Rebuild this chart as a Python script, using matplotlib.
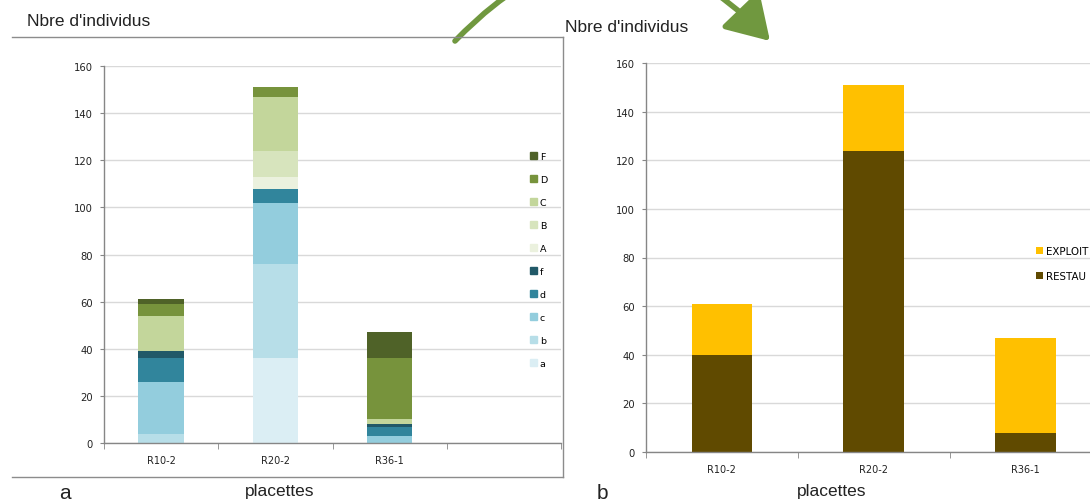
import matplotlib
matplotlib.use("Agg")
import matplotlib.pyplot as plt
import numpy as np
from matplotlib.patches import Patch, FancyArrowPatch, ArrowStyle
from matplotlib.lines import Line2D

# data
placettes = ["R10-2", "R20-2", "R36-1"]
left_series = ["a", "b", "c", "d", "f", "A", "B", "C", "D", "F"]
left_values = {
    "a": [0, 36, 0],
    "b": [4, 40, 0],
    "c": [22, 26, 3],
    "d": [10, 6, 4],
    "f": [3, 0, 1],
    "A": [0, 5, 0],
    "B": [0, 11, 0],
    "C": [15, 23, 2],
    "D": [5, 4, 26],
    "F": [2, 0, 11],
}
left_colors = {
    "a": "#DBEEF4", "b": "#B7DEE8", "c": "#93CDDD", "d": "#31859C", "f": "#215968",
    "A": "#EBF1DE", "B": "#D7E4BD", "C": "#C3D69B", "D": "#77933C", "F": "#4F6228",
}
restau = [40, 124, 8]
exploit = [21, 27, 39]
right_labels = ["RESTAU", "EXPLOIT"]

W, H = 1090, 502
fig = plt.figure(figsize=(W / 100, H / 100), dpi=100)
fig.patch.set_facecolor("white")

narrow = ["Liberation Sans Narrow", "Liberation Sans", "DejaVu Sans"]


def px(x0, y0, x1, y1):
    return [x0 / W, 1 - y1 / H, (x1 - x0) / W, (y1 - y0) / H]


def style_axes(ax, label_pad):
    ax.set_ylim(0, 160)
    ax.set_yticks(np.arange(0, 161, 20))
    ax.set_xlim(-0.5, 3.5)
    ax.set_xticks(range(len(placettes)))
    ax.set_xticklabels(placettes)
    ax.set_xticks([-0.5, 0.5, 1.5, 2.5, 3.5], minor=True)
    ax.tick_params(axis="x", which="major", length=0, pad=label_pad, labelsize=7, colors="#222222")
    ax.tick_params(axis="x", which="minor", length=4, color="#868686", direction="out")
    ax.tick_params(axis="y", length=3, color="#868686", pad=5, labelsize=7.2, labelcolor="#222222")
    ax.grid(axis="y", color="#D9D9D9", lw=1)
    ax.set_axisbelow(True)
    for s in ["top", "right"]:
        ax.spines[s].set_visible(False)
    for s in ["left", "bottom"]:
        ax.spines[s].set_color("#868686")
        ax.spines[s].set_linewidth(1)


# left chart (a)
ax1 = fig.add_axes(px(104, 67, 561, 444))
x = np.arange(len(placettes))
bottom = np.zeros(len(placettes))
for s in left_series:
    v = np.array(left_values[s])
    ax1.bar(x, v, 0.4, bottom=bottom, color=left_colors[s], lw=0)
    bottom += v
style_axes(ax1, 8.5)
handles = [Patch(color=left_colors[s], label=s) for s in left_series[::-1]]
ax1.legend(handles=handles, loc="upper left", bbox_to_anchor=(530 / W, 1 - 153 / H),
           bbox_transform=fig.transFigure, frameon=False, fontsize=6.8,
           handlelength=0.72, handleheight=0.72, handletextpad=0.3,
           labelspacing=1.48, borderpad=0, borderaxespad=0)

# right chart (b)
ax2 = fig.add_axes(px(646, 64, 1253, 453))
ax2.bar(x, restau, 0.4, color="#604A00", lw=0, label=right_labels[0])
ax2.bar(x, exploit, 0.4, bottom=restau, color="#FFC000", lw=0, label=right_labels[1])
style_axes(ax2, 8.5)
h2, l2 = ax2.get_legend_handles_labels()
ax2.legend(h2[::-1], l2[::-1], loc="upper left", bbox_to_anchor=(1036 / W, 1 - 247 / H),
           bbox_transform=fig.transFigure, frameon=False, fontsize=7.4,
           handlelength=0.7, handleheight=0.7, handletextpad=0.3,
           labelspacing=1.5, borderpad=0, borderaxespad=0)

# frame around chart a
frame_col = "#8C8C8C"
fig.add_artist(Line2D([12 / W, 563 / W], [1 - 38 / H, 1 - 38 / H], color=frame_col, lw=1))
fig.add_artist(Line2D([563 / W, 563 / W], [1 - 38 / H, 1 - 478 / H], color=frame_col, lw=1))
fig.add_artist(Line2D([12 / W, 563 / W], [1 - 478 / H, 1 - 478 / H], color=frame_col, lw=1))

# texts
fig.text(27 / W, 1 - 22 / H, "Nbre d'individus", family=narrow, fontsize=12.5, va="center", color="#222222")
fig.text(565 / W, 1 - 28 / H, "Nbre d'individus", family=narrow, fontsize=12.5, va="center", color="#222222")
fig.text(280 / W, 1 - 492 / H, "placettes", family=narrow, fontsize=12.5, va="center", ha="center", color="#222222")
fig.text(832 / W, 1 - 492 / H, "placettes", family=narrow, fontsize=12.5, va="center", ha="center", color="#222222")
fig.text(65 / W, 1 - 494 / H, "a", family=narrow, fontsize=15, va="center", ha="center", color="#222222")
fig.text(602 / W, 1 - 494 / H, "b", family=narrow, fontsize=15, va="center", ha="center", color="#222222")

# curved green arrow
arrow = FancyArrowPatch(posA=(455 / W, 1 - 42 / H), posB=(770 / W, 1 - 42 / H),
                        transform=fig.transFigure, connectionstyle="arc3,rad=-0.52",
                        arrowstyle=ArrowStyle("-|>", head_length=1.3, head_width=0.8),
                        mutation_scale=20, lw=4, color="#70983F",
                        shrinkA=0, shrinkB=0)
fig.add_artist(arrow)

fig.savefig("out.png", dpi=100)
